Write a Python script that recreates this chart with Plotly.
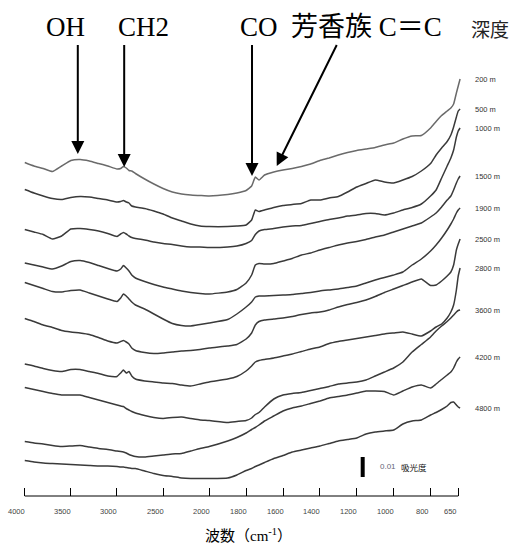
import plotly.graph_objects as go

# ---------------- data ----------------
wavenumber = [4000, 3900, 3800, 3700, 3600, 3500, 3400, 3300, 3200, 3100,
              3000, 2960, 2930, 2900, 2870, 2840, 2800, 2700, 2600, 2500,
              2400, 2300, 2200, 2100, 2000, 1900, 1850, 1800, 1770, 1750,
              1730, 1700, 1650, 1600, 1550, 1500, 1450, 1400, 1350, 1300,
              1250, 1200, 1150, 1100, 1050, 1000, 950, 900, 850, 800,
              770, 740, 710, 690, 675, 660, 650, 640]

# stacked absorbance (in units of 0.001), one spectrum per depth
abs_200m = [166.75, 165, 163.75, 162.25, 165, 167.75, 168.25, 167.5, 166.25, 165,
            163.5, 163.75, 164.75, 164, 162.75, 162.5, 161.25, 158.5, 156, 153.75,
            152, 151, 150.5, 150.25, 150, 150.75, 151.5, 152.75, 155, 159.5,
            158, 160.5, 162, 163, 163.75, 164.75, 166, 167.75, 169, 170.5,
            171.75, 172.75, 173.5, 174.25, 175.5, 176.5, 178.5, 180, 180.25, 184,
            187.25, 190.25, 192.5, 194, 196, 201.5, 205, 208.5]
abs_500m = [153.25, 151.5, 150, 148.75, 148.25, 149.25, 149.75, 149.5, 148.75, 148,
            147, 147.25, 147.75, 147, 146.5, 145, 144.5, 143.75, 142.5, 141,
            139, 137.5, 136, 135, 134.75, 134.75, 135, 135.5, 138, 143,
            142.25, 143, 144.25, 145.25, 145.75, 146.25, 148, 148, 149, 149.75,
            152, 154.5, 156.25, 158, 157, 156.5, 158, 159.75, 162.5, 166.25,
            170.5, 174, 177.25, 180.5, 184.5, 189.5, 192.5, 193.5]
abs_1000m = [133.25, 132, 130.75, 128.5, 130, 133.5, 133.75, 133.25, 132.5, 131.25,
             129.75, 131, 131.75, 131, 130, 129.25, 128.75, 128, 127, 126.25,
             125.75, 125, 124.5, 124.5, 124.25, 124.5, 125, 126.25, 127.75, 130.75,
             132.5, 133.25, 133.75, 134.5, 135, 135.25, 136.25, 137.25, 138.25, 139,
             140, 140.5, 141.25, 141.25, 140.5, 141.5, 143, 144.25, 146, 150,
             153, 159, 165, 169, 173, 179.5, 182.5, 184]
abs_1500m = [116.5, 115.5, 114.5, 113.5, 115, 117.25, 117.75, 116.75, 115.25, 113.75,
             112.5, 113.5, 115.25, 114, 112.5, 110.5, 109, 107.25, 105.75, 104.5,
             103.5, 102.5, 101.75, 101.25, 101, 102, 103.25, 106.5, 110.5, 115.5,
             116.25, 116, 116.25, 117.5, 118.75, 120.5, 121.5, 123, 124.25, 125.5,
             126.5, 127.25, 128.25, 129.5, 130.5, 132, 133.5, 135, 136.5, 139.5,
             141.5, 144.5, 148, 150, 153, 156.5, 158.5, 160]
abs_1900m = [106.75, 105.25, 103.75, 102.25, 102, 102.75, 103, 101.5, 100, 98.5,
             97.25, 99, 101, 100, 98.5, 97, 95.5, 93.5, 91, 88.5,
             86.25, 85.25, 85, 85.75, 86.5, 88.25, 91, 94.5, 97, 99.5,
             100, 100, 100.25, 100.5, 100.75, 101.25, 101.75, 102.5, 103, 103.5,
             104.25, 105, 106.5, 108, 109.25, 110.5, 112, 115.5, 118.5, 122.5,
             125.5, 129, 133, 136, 138.5, 141.5, 143, 144]
abs_2500m = [88.75, 87.25, 85.5, 84.25, 82.75, 82, 81.5, 80.75, 79.25, 77.5,
             76.5, 77.25, 77.75, 77, 76, 74, 72.75, 71.75, 71.25, 71.5,
             72, 72.5, 72.75, 73.25, 74, 75, 75.75, 78.5, 81.5, 85.5,
             87.25, 88, 88.5, 89, 89.75, 90.75, 91.5, 92, 93, 94.5,
             95.75, 96.75, 98, 99.75, 101.75, 103.5, 105.25, 107, 108.5, 105.25,
             105.5, 107.5, 110, 112, 115.5, 123, 126, 128.5]
abs_2800m = [66, 65, 63.75, 62.75, 62.25, 63.25, 63.25, 62.25, 61.25, 60,
             59.75, 61.5, 63, 61.5, 62.25, 60, 58.5, 57.5, 57, 56.5,
             56.25, 55.5, 55, 56, 57, 58.5, 59.75, 62.5, 65, 67,
             67.75, 68.25, 69, 70, 71, 72.25, 73.5, 74.5, 76.25, 77.25,
             78, 78.75, 79.5, 80.25, 81, 81.5, 82, 81, 80, 82.5,
             84.5, 86, 89, 92, 95.5, 103, 110, 114]
abs_3600m = [54.25, 53.25, 52.25, 51.25, 50.5, 50.5, 50.5, 49.25, 48, 46.75,
             45.5, 45, 44.75, 43.75, 43, 42.25, 41.5, 40.25, 39.25, 38.75,
             39.25, 39.5, 38.75, 38, 37.75, 36.75, 37.25, 37.75, 39, 40.75,
             41.75, 44.5, 48.5, 50.5, 51.25, 51.75, 52.75, 53.75, 54.75, 56,
             56.5, 57, 58, 60, 62, 64, 67, 72, 75.75, 79.5,
             82.5, 85, 87.25, 89, 90.5, 92, 92.75, 93]
abs_4200m = [27.25, 26.5, 26, 25.25, 24.75, 25, 25.25, 24.5, 23.75, 23.25,
             22.5, 22.25, 22, 21.5, 20.75, 20.25, 19.75, 19.5, 20, 20.5,
             21, 21.25, 22.5, 23.75, 24.75, 27.5, 29.25, 31.5, 33.25, 34.25,
             35.5, 37.5, 40, 42.5, 44, 45, 46.25, 47.5, 49, 49.75,
             50.5, 51.5, 52.5, 52.5, 52.25, 50.5, 52.5, 54.5, 55.5, 54,
             56, 58.25, 60.5, 62, 64, 67, 68.5, 69.5]
abs_4800m = [17.75, 17, 16.5, 16.25, 16, 15.75, 15.5, 15.25, 15, 15,
             14.75, 14.5, 14.5, 14.25, 14, 13.75, 13.75, 12.5, 11.25, 10.25,
             9.75, 9, 8.75, 8.75, 8.75, 9, 10.5, 12.75, 13.75, 14.75,
             15.5, 16.75, 18.75, 20.25, 22, 23, 24, 25, 26.25, 27.5,
             28.25, 29, 31, 32, 32.5, 33, 36, 37.5, 38, 40.5,
             41.75, 43.25, 45, 46.75, 47, 45.5, 44.5, 44]

depth_labels = ["200 m", "500 m", "1000 m", "1500 m", "1900 m",
                "2500 m", "2800 m", "3600 m", "4200 m", "4800 m"]
series = [abs_200m, abs_500m, abs_1000m, abs_1500m, abs_1900m,
          abs_2500m, abs_2800m, abs_3600m, abs_4200m, abs_4800m]

tick_wavenumbers = [4000, 3500, 3000, 2500, 2000, 1800, 1600, 1400, 1200, 1000, 800, 650]
tick_labels = ["4000", "3500", "3000", "2500", "2000", "1800", "1600",
               "1400", "1200", "1000", "800", "650"]

# band assignments (label, wavenumber of arrow tip, absorbance at tip)
band_labels = ["OH", "CH2", "CO", "芳香族 C＝C"]
band_wavenumbers = [3425, 2922, 1768, 1634]
band_tip_abs = [171, 164.5, 160, 165]

scale_bar_value = 10          # 0.01 absorbance, in units of 0.001
scale_bar_wavenumber = 1168

# ---------------- axis transform (scale doubles below 2000 cm-1) ----------------
def to_u(w):
    return 4000 - w if w >= 2000 else 2000 + 2 * (2000 - w)

xu = [to_u(w) for w in wavenumber]

fig = go.Figure()
for i, (name, ys) in enumerate(zip(depth_labels, series)):
    fig.add_trace(go.Scatter(
        x=xu, y=ys, mode="lines", name=name,
        line=dict(color="#6a6a6a" if i == 0 else "#3a3a3a", width=1.5,
                  shape="spline", smoothing=0.4),
        showlegend=False, hoverinfo="skip"))

annotations = []
# depth labels at the end of each spectrum
for name, ys in zip(depth_labels, series):
    annotations.append(dict(text=name, xref="paper", yref="y",
                            x=(473 - 22.24) / 439, y=ys[-1],
                            xanchor="left", yanchor="middle", showarrow=False,
                            font=dict(family="Liberation Sans, Arial", size=7.5, color="#333")))
# tick labels (slightly left of ticks as in the original)
for t, lab in zip(tick_wavenumbers, tick_labels):
    annotations.append(dict(text=lab, xref="x", yref="paper", x=to_u(t), y=0,
                            xshift=-8, yshift=-15, xanchor="center", yanchor="middle",
                            showarrow=False,
                            font=dict(family="Liberation Sans, Arial", size=7.5, color="#444")))

serif = "Liberation Serif, Times New Roman, Noto Sans CJK JP"
# band arrows
arrow_offsets = [(0, -111), (0, -124), (0, -133), (61, -123)]
for lab, w, a, (axo, ayo) in zip(band_labels, band_wavenumbers, band_tip_abs, arrow_offsets):
    annotations.append(dict(x=to_u(w), y=a, xref="x", yref="y", text=" ",
                            showarrow=True, ax=axo, ay=ayo, arrowhead=2,
                            arrowsize=1.3, arrowwidth=2, arrowcolor="black",
                            font=dict(size=1)))
# band text labels
label_px = [66, 143.5, 259, 366.5]
for lab, px in zip(band_labels, label_px):
    annotations.append(dict(text=lab, xref="paper", yref="y",
                            x=(px - 22.24) / 439, y=234.5, xanchor="center",
                            yanchor="middle", showarrow=False,
                            font=dict(family=serif, size=27, color="black")))
annotations.append(dict(text="深度", xref="paper", yref="y", x=(490 - 22.24) / 439, y=234,
                        xanchor="center", yanchor="middle", showarrow=False,
                        font=dict(family="Noto Sans CJK JP", size=19, color="#222")))
# scale bar labels
annotations.append(dict(text="0.01", xref="paper", yref="y", x=(388 - 22.24) / 439,
                        y=scale_bar_value / 2 + 9.5 + 0.2, xanchor="center", yanchor="middle",
                        showarrow=False,
                        font=dict(family="Liberation Sans, Arial", size=8, color="#667")))
annotations.append(dict(text="吸光度", xref="paper", yref="y", x=(414 - 22.24) / 439,
                        y=scale_bar_value / 2 + 9.5, xanchor="center", yanchor="middle",
                        showarrow=False,
                        font=dict(family="Noto Sans CJK JP", size=8.5, color="#111")))
# x-axis title
annotations.append(dict(text="波数（cm<sup>-1</sup>）", xref="paper", yref="paper",
                        x=(249 - 22.24) / 439, y=-0.079, xanchor="center", yanchor="middle",
                        showarrow=False,
                        font=dict(family=serif, size=15, color="black")))

shapes = [
    # axis line from 4000 to 650 cm-1
    dict(type="line", xref="x", yref="paper", x0=to_u(4000), x1=to_u(650), y0=0, y1=0,
         line=dict(color="black", width=1)),
    # 0.01 absorbance scale bar
    dict(type="line", xref="x", yref="y", x0=to_u(scale_bar_wavenumber),
         x1=to_u(scale_bar_wavenumber), y0=9.5, y1=9.5 + scale_bar_value,
         line=dict(color="black", width=4)),
]

fig.update_layout(
    width=513, height=543,
    margin=dict(l=22, r=52, t=0, b=47),
    paper_bgcolor="white", plot_bgcolor="white",
    xaxis=dict(range=[-30, 4730], showgrid=False, zeroline=False, showline=False,
               tickvals=[to_u(t) for t in tick_wavenumbers], ticktext=tick_labels,
               showticklabels=False, ticks="inside", ticklen=8, tickcolor="black",
               tickwidth=1),
    yaxis=dict(range=[0, 248], visible=False),
    annotations=annotations, shapes=shapes,
)

fig.write_html("out.html", config={"displayModeBar": False},
               post_script="document.body.style.margin='0';document.body.style.overflow='hidden';")
